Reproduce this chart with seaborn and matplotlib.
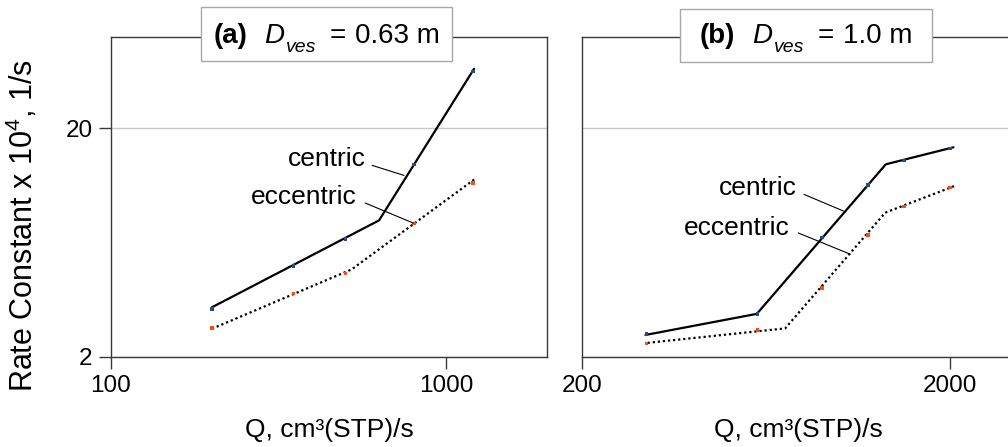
import numpy as np
import pandas as pd
import matplotlib
matplotlib.use("Agg")
import matplotlib.pyplot as plt
from matplotlib.patches import Rectangle
from matplotlib.transforms import offset_copy
from matplotlib.ticker import FixedLocator, NullLocator, FuncFormatter
import seaborn as sns

# ---- measured rate constants (x 10^4, 1/s) vs gas flow Q (cm3(STP)/s) ----
# (a) D_ves = 0.63 m
q_a = [200, 350, 500, 800, 1200]
k_centric_a = [3.23, 4.98, 6.55, 13.9, 35.5]
k_eccentric_a = [2.67, 3.78, 4.63, 7.65, 11.5]
# piecewise fit lines (a)
fit_q_centric_a = [200, 630, 1210]
fit_k_centric_a = [3.29, 7.9, 36.4]
fit_q_eccentric_a = [200, 522, 1218]
fit_k_eccentric_a = [2.65, 4.82, 12.0]

# (b) D_ves = 1.0 m
q_b = [300, 600, 900, 1200, 1500, 2000]
k_centric_b = [2.51, 3.08, 6.64, 11.3, 14.45, 16.3]
k_eccentric_b = [2.29, 2.62, 4.0, 6.82, 9.1, 11.0]
# piecewise fit lines (b)
fit_q_centric_b = [298, 598, 1340, 2046]
fit_k_centric_b = [2.49, 3.08, 13.9, 16.5]
fit_q_eccentric_b = [302, 714, 1335, 2068]
fit_k_eccentric_b = [2.3, 2.66, 8.54, 11.2]

series_names = ["centric", "eccentric"]
y_ticks = [2, 20]
x_ticks_a = [100, 1000]
x_ticks_b = [200, 2000]
panel_tags = ["(a)", "(b)"]
diameters = ["0.63 m", "1.0 m"]
x_label = "Q, cm³(STP)/s"
y_label = r"Rate Constant x 10$^4$, 1/s"

sns.set_style("white")
plt.rcParams["font.family"] = ["Liberation Sans", "DejaVu Sans"]
plt.rcParams["mathtext.fontset"] = "custom"
plt.rcParams["mathtext.rm"] = "Liberation Sans"
plt.rcParams["mathtext.it"] = "Liberation Sans:italic"
plt.rcParams["mathtext.bf"] = "Liberation Sans:bold"
for key in ["text.color", "axes.labelcolor", "xtick.labelcolor", "ytick.labelcolor"]:
    plt.rcParams[key] = "black"

fig = plt.figure(figsize=(10.08, 4.47), dpi=100)
ax1 = fig.add_axes([0.1101, 0.2020, 0.4328, 0.7146])
ax2 = fig.add_axes([0.5771, 0.2020, 0.4295, 0.7146], sharey=ax1)

point_colors = {"centric": "#1d4f8f", "eccentric": "#f0501e"}
spine_color = "#3a3a3a"
fmt = FuncFormatter(lambda v, p: f"{v:g}")


def draw_panel(ax, q, kc, ke, fqc, fkc, fqe, fke, xlim, xticks):
    ax.set_xscale("log")
    ax.set_yscale("log")
    sns.lineplot(x=fqc, y=fkc, ax=ax, color="black", lw=1.6, zorder=2)
    sns.lineplot(x=fqe, y=fke, ax=ax, color="black", lw=1.6,
                 linestyle=(0, (1, 1.3)), zorder=2)
    pts = pd.DataFrame({
        "Q": list(q) * 2,
        "k": list(kc) + list(ke),
        "series": [series_names[0]] * len(q) + [series_names[1]] * len(q),
    })
    sns.scatterplot(data=pts, x="Q", y="k", hue="series", palette=point_colors,
                    marker="s", s=6, linewidth=0, legend=False, ax=ax, zorder=3)
    ax.set_xlim(*xlim)
    ax.set_ylim(2, 50)
    ax.xaxis.set_major_locator(FixedLocator(xticks))
    ax.xaxis.set_minor_locator(NullLocator())
    ax.xaxis.set_major_formatter(fmt)
    ax.yaxis.set_major_locator(FixedLocator(y_ticks))
    ax.yaxis.set_minor_locator(NullLocator())
    ax.yaxis.set_major_formatter(fmt)
    ax.grid(axis="y", which="major", color="#c8c8c8", lw=1.0)
    ax.grid(axis="x", visible=False)
    ax.set_axisbelow(True)
    for s in ax.spines.values():
        s.set_visible(True)
        s.set_color(spine_color)
        s.set_linewidth(1.0)
    ax.tick_params(axis="both", which="major", direction="out", length=8.3,
                   width=1.0, color=spine_color, labelsize=17.5, pad=5,
                   bottom=True, left=True, labelcolor="black")
    ax.set_xlabel(x_label, fontsize=19, labelpad=15)
    ax.set_ylabel("")


draw_panel(ax1, q_a, k_centric_a, k_eccentric_a, fit_q_centric_a, fit_k_centric_a,
           fit_q_eccentric_a, fit_k_eccentric_a, (100, 2000), x_ticks_a)
draw_panel(ax2, q_b, k_centric_b, k_eccentric_b, fit_q_centric_b, fit_k_centric_b,
           fit_q_eccentric_b, fit_k_eccentric_b, (200, 3000), x_ticks_b)
ax2.tick_params(axis="y", left=False, labelleft=False)
ax1.set_ylabel(y_label, fontsize=22)
ax1.yaxis.set_label_coords(-0.163, 0.41)

# panel headers in framed boxes straddling the top spine
renderer = fig.canvas.get_renderer()


def header(ax, tag, diameter, box):
    bx0, bx1, by0, by1 = box
    ax.add_patch(Rectangle((bx0, by0), bx1 - bx0, by1 - by0, transform=ax.transAxes,
                           facecolor="white", edgecolor="#a8a8a8", lw=1.0,
                           clip_on=False, zorder=5))
    # (text, font props, gap before in px, baseline drop in px)
    parts = [
        (tag, dict(fontsize=20, fontweight="bold"), 0, 0),
        ("D", dict(fontsize=20, fontstyle="italic"), 17, 0),
        ("ves", dict(fontsize=14, fontstyle="italic"), 2, 9),
        ("=", dict(fontsize=20), 13, 0),
        (diameter, dict(fontsize=20), 9, 0),
    ]
    texts, widths = [], []
    for s, props, gap, drop in parts:
        t = ax.text(0, 0, s, transform=ax.transAxes, ha="left", va="baseline",
                    zorder=6, clip_on=False, **props)
        widths.append(t.get_window_extent(renderer).width)
        texts.append(t)
    total = sum(w + p[2] for w, p in zip(widths, parts))
    cx_px = ax.transAxes.transform(((bx0 + bx1) / 2, 0))[0]
    x_px = cx_px - total / 2
    base = 0.982
    for t, w, (s, props, gap, drop) in zip(texts, widths, parts):
        x_px += gap
        x_ax = ax.transAxes.inverted().transform((x_px, 0))[0]
        t.set_position((x_ax, base))
        t.set_transform(offset_copy(ax.transAxes, fig=fig, x=0, y=-drop, units="dots"))
        x_px += w


header(ax1, panel_tags[0], diameters[0], (0.2056, 0.7823, 0.9258, 1.0939))
header(ax2, panel_tags[1], diameters[1], (0.2271, 0.8099, 0.9217, 1.0886))

# curve labels with leader lines
label_specs = [
    (ax1, "centric", (575, 14.7), (601, 13.75), (748, 12.43)),
    (ax1, "eccentric", (540, 10.0), (573, 9.41), (797, 7.69)),
    (ax2, "centric", (770, 10.9), (803, 10.27), (1028, 8.68)),
    (ax2, "eccentric", (733, 7.35), (775, 6.96), (1072, 5.62)),
]
for ax, txt, tpos, l0, l1 in label_specs:
    ax.text(*tpos, txt, ha="right", va="center", fontsize=19, zorder=4)
    ax.plot([l0[0], l1[0]], [l0[1], l1[1]], color="black", lw=0.8, zorder=4)

fig.savefig("out.png", dpi=100)
